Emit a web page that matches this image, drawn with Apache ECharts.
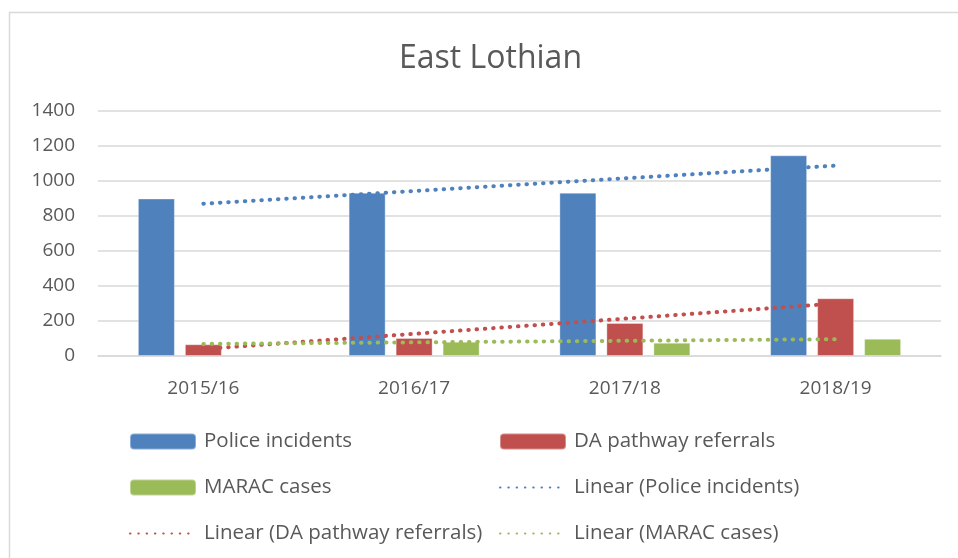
<!DOCTYPE html>
<html>
<head>
<meta charset="utf-8">
<script src="https://cdn.jsdelivr.net/npm/echarts@6/dist/echarts.min.js"></script>
<style>
  html, body { margin: 0; padding: 0; background: #fff; }
  #chart { width: 958px; height: 558px; }
</style>
</head>
<body>
<div id="chart"></div>
<script>
  // values
  const years = ['2015/16', '2016/17', '2017/18', '2018/19']
  const police = [900, 933, 933, 1147]
  const daReferrals = [67, 103, 189, 330]
  const marac = ['-', 82, 76, 99]        // no bar for 2015/16
  // trend line ends (first and last year)
  const policeTrend = [870, 1088]
  const daTrend = [40, 300]
  const maracTrend = [69, 96]
  const yTicks = [0, 200, 400, 600, 800, 1000, 1200, 1400]

  const blue = '#4F81BD', red = '#C0504D', green = '#9BBB59'
  const txt = '#595959'
  const font = '"Open Sans", "Liberation Sans", sans-serif'

  // put a trend line's two ends on the first and last category
  const ends = (pair) => years.map((y, i) => i === 0 ? pair[0] : (i === years.length - 1 ? pair[1] : '-'))

  const barSeries = (name, data, color) => ({
    name: name,
    type: 'bar',
    data: data,
    barWidth: 37,
    barGap: '27%',
    itemStyle: { color: color, borderColor: 'rgba(255,255,255,0.35)', borderWidth: 1 },
    z: 2
  })

  const trendSeries = (name, data, color) => ({
    name: name,
    type: 'line',
    data: ends(data),
    connectNulls: true,
    symbol: 'none',
    silent: true,
    lineStyle: { color: color, width: 4, type: [0.5, 7.8], cap: 'round' },
    itemStyle: { color: color },
    z: 3
  })

  // legend entry; trend entries hide the marker so only the dotted line shows
  const entry = (name) => name.indexOf('Linear') === 0 ? { name: name, itemStyle: { opacity: 0 } } : { name: name }

  const legendCol = (left, names) => ({
    orient: 'vertical',
    left: left,
    top: 431,
    padding: 0,
    itemWidth: 66,
    itemHeight: 16,
    itemGap: 25,
    textStyle: { fontSize: 20.5, color: txt, fontFamily: font, padding: [0, 0, 0, 3] },
    data: names.map(entry)
  })

  let chart = echarts.init(document.getElementById('chart'))
  chart.setOption({
    animation: false,
    backgroundColor: '#fff',
    textStyle: { fontFamily: font },
    title: {
      text: 'East Lothian',
      left: 394,
      top: 38,
      textStyle: { fontSize: 32, fontWeight: 'normal', color: txt, fontFamily: font }
    },
    graphic: [{
      type: 'rect',
      shape: { x: 9.5, y: 12.5, width: 1000, height: 1000 },
      style: { fill: 'none', stroke: '#d9d9d9', lineWidth: 1.5 },
      silent: true
    }],
    legend: [
      legendCol(129, ['Police incidents', 'MARAC cases', 'Linear (DA pathway referrals)']),
      legendCol(499, ['DA pathway referrals', 'Linear (Police incidents)', 'Linear (MARAC cases)'])
    ],
    grid: { left: 98, right: 17, top: 111, bottom: 202, containLabel: false },
    xAxis: {
      type: 'category',
      data: years,
      axisLine: { lineStyle: { color: '#d9d9d9', width: 1.5 } },
      axisTick: { show: false },
      axisLabel: { fontSize: 19, color: txt, margin: 23, fontFamily: font }
    },
    yAxis: {
      type: 'value',
      min: yTicks[0],
      max: yTicks[yTicks.length - 1],
      interval: 200,
      axisLine: { show: false },
      axisTick: { show: false },
      axisLabel: { fontSize: 19, color: txt, margin: 23, fontFamily: font, formatter: (v) => String(v) },
      splitLine: { lineStyle: { color: '#d9d9d9', width: 1.5 } }
    },
    series: [
      barSeries('Police incidents', police, blue),
      barSeries('DA pathway referrals', daReferrals, red),
      barSeries('MARAC cases', marac, green),
      trendSeries('Linear (Police incidents)', policeTrend, blue),
      trendSeries('Linear (DA pathway referrals)', daTrend, red),
      trendSeries('Linear (MARAC cases)', maracTrend, green)
    ]
  })
  window.addEventListener('resize', function () {
    chart.resize()
  })
</script>
</body>
</html>
